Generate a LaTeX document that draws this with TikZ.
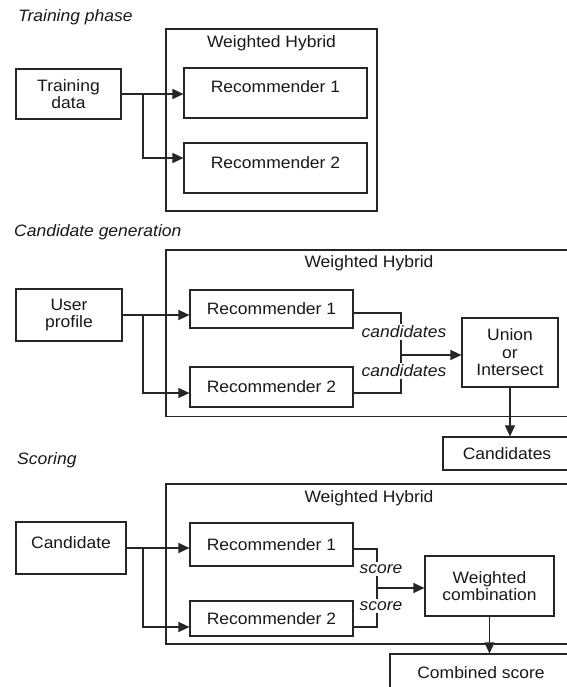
\documentclass[tikz,border=0pt]{standalone}
\usepackage{fontspec}
\setmainfont{Liberation Sans}[FakeStretch=1.06]
\usetikzlibrary{arrows.meta,calc}
\definecolor{linec}{gray}{0.15}
\begin{document}
\begin{tikzpicture}[x=1pt,y=-1pt,
  every node/.style={font=\fontsize{16.5}{17.5}\selectfont, text=black!90},
  box/.style={draw=linec, line width=1.15pt, rectangle, inner sep=0pt, align=center},
  lowtext/.style={text height=12pt, text depth=12pt},
  sect/.style={font=\fontsize{16.5}{17.5}\selectfont\itshape, anchor=west, inner sep=0pt},
  tag/.style={font=\fontsize{16.5}{17.5}\selectfont\itshape, fill=white, inner sep=2pt},
  link/.style={draw=linec, line width=1.15pt},
  arr/.style={link, -{Triangle[length=11pt,width=10pt]}}
]
\useasboundingbox (0,0) rectangle (566,687);
\fill[white] (0,0) rectangle (566,687);

% ---------- Training phase ----------
\node[sect] (t1) at (18,17) {Training phase};
\node[box, minimum width=211pt, minimum height=182pt] (wh1) at (271.5,120) {};
\node (wh1t) at (271.5,43) {Weighted Hybrid};
\node[box, minimum width=105pt, minimum height=50pt] (td) at (68.5,94) {Training\\data};
\node[box, lowtext, minimum width=183pt, minimum height=50pt] (r1a) at (275.5,93) {Recommender 1};
\node[box, lowtext, minimum width=183pt, minimum height=50pt] (r2a) at (275.5,168) {Recommender 2};

\coordinate (j1) at (143,94);
\coordinate (j1b) at (143,158);
\draw[arr] (td.east) -- (td.east -| r1a.west);
\draw[arr] (j1) -- (j1b) -- (j1b -| r2a.west);

% ---------- Candidate generation ----------
\node[sect] (t2) at (14,232) {Candidate generation};
\node[box, minimum width=406pt, minimum height=166.5pt] (wh2) at (369,333.25) {};
\node (wh2t) at (369,263) {Weighted Hybrid};
\node[box, minimum width=106pt, minimum height=52pt] (up) at (69,315) {User\\profile};
\node[box, minimum width=163pt, minimum height=38pt] (r1b) at (271.5,309) {Recommender 1};
\node[box, minimum width=163pt, minimum height=40pt] (r2b) at (271.5,387) {Recommender 2};
\node[box, minimum width=96pt, minimum height=69pt] (ui) at (510,352.5) {Union\\or\\Intersect};
\node[box, minimum width=128pt, minimum height=33pt] (cands) at (507,453.5) {Candidates};

\coordinate (j2) at (143,315);
\coordinate (j2b) at (143,393);
\draw[arr] (up.east) -- (up.east -| r1b.west);
\draw[arr] (j2) -- (j2b) -- (j2b -| r2b.west);
\coordinate (m1) at (401,313);
\coordinate (m2) at (401,393);
\coordinate (m3) at (401,355);
\draw[link] (r1b.east |- m1) -- (m1) -- (m2) -- (r2b.east |- m2);
\draw[arr] (m3) -- (m3 -| ui.west);
\draw[arr] (ui.south) -- (ui.south |- cands.north);
\node[tag] (c1) at (404,332) {candidates};
\node[tag] (c2) at (404,371) {candidates};

% ---------- Scoring ----------
\node[sect] (t3) at (17,460) {Scoring};
\node[box, minimum width=406pt, minimum height=160pt] (wh3) at (369,564) {};
\node (wh3t) at (369,498) {Weighted Hybrid};
\node[box, lowtext, minimum width=110pt, minimum height=52pt] (cd) at (71,548) {Candidate};
\node[box, minimum width=163pt, minimum height=43pt] (r1c) at (271.5,544.5) {Recommender 1};
\node[box, minimum width=163pt, minimum height=35pt] (r2c) at (271.5,618.5) {Recommender 2};
\node[box, minimum width=129pt, minimum height=60pt] (wc) at (489.5,586) {Weighted\\combination};
\node[box, minimum width=182pt, minimum height=38pt] (cs) at (481,673) {Combined score};

\coordinate (j3) at (143,548);
\coordinate (j3b) at (143,627);
\draw[arr] (cd.east) -- (cd.east -| r1c.west);
\draw[arr] (j3) -- (j3b) -- (j3b -| r2c.west);
\coordinate (n1) at (377,549);
\coordinate (n2) at (377,627);
\coordinate (n3) at (377,588);
\draw[link] (r1c.east |- n1) -- (n1) -- (n2) -- (r2c.east |- n2);
\draw[arr] (n3) -- (n3 -| wc.west);
\draw[arr] (wc.south) -- (wc.south |- cs.north);
\node[tag] (s1) at (381,569) {score};
\node[tag] (s2) at (381,606) {score};
\end{tikzpicture}
\end{document}
